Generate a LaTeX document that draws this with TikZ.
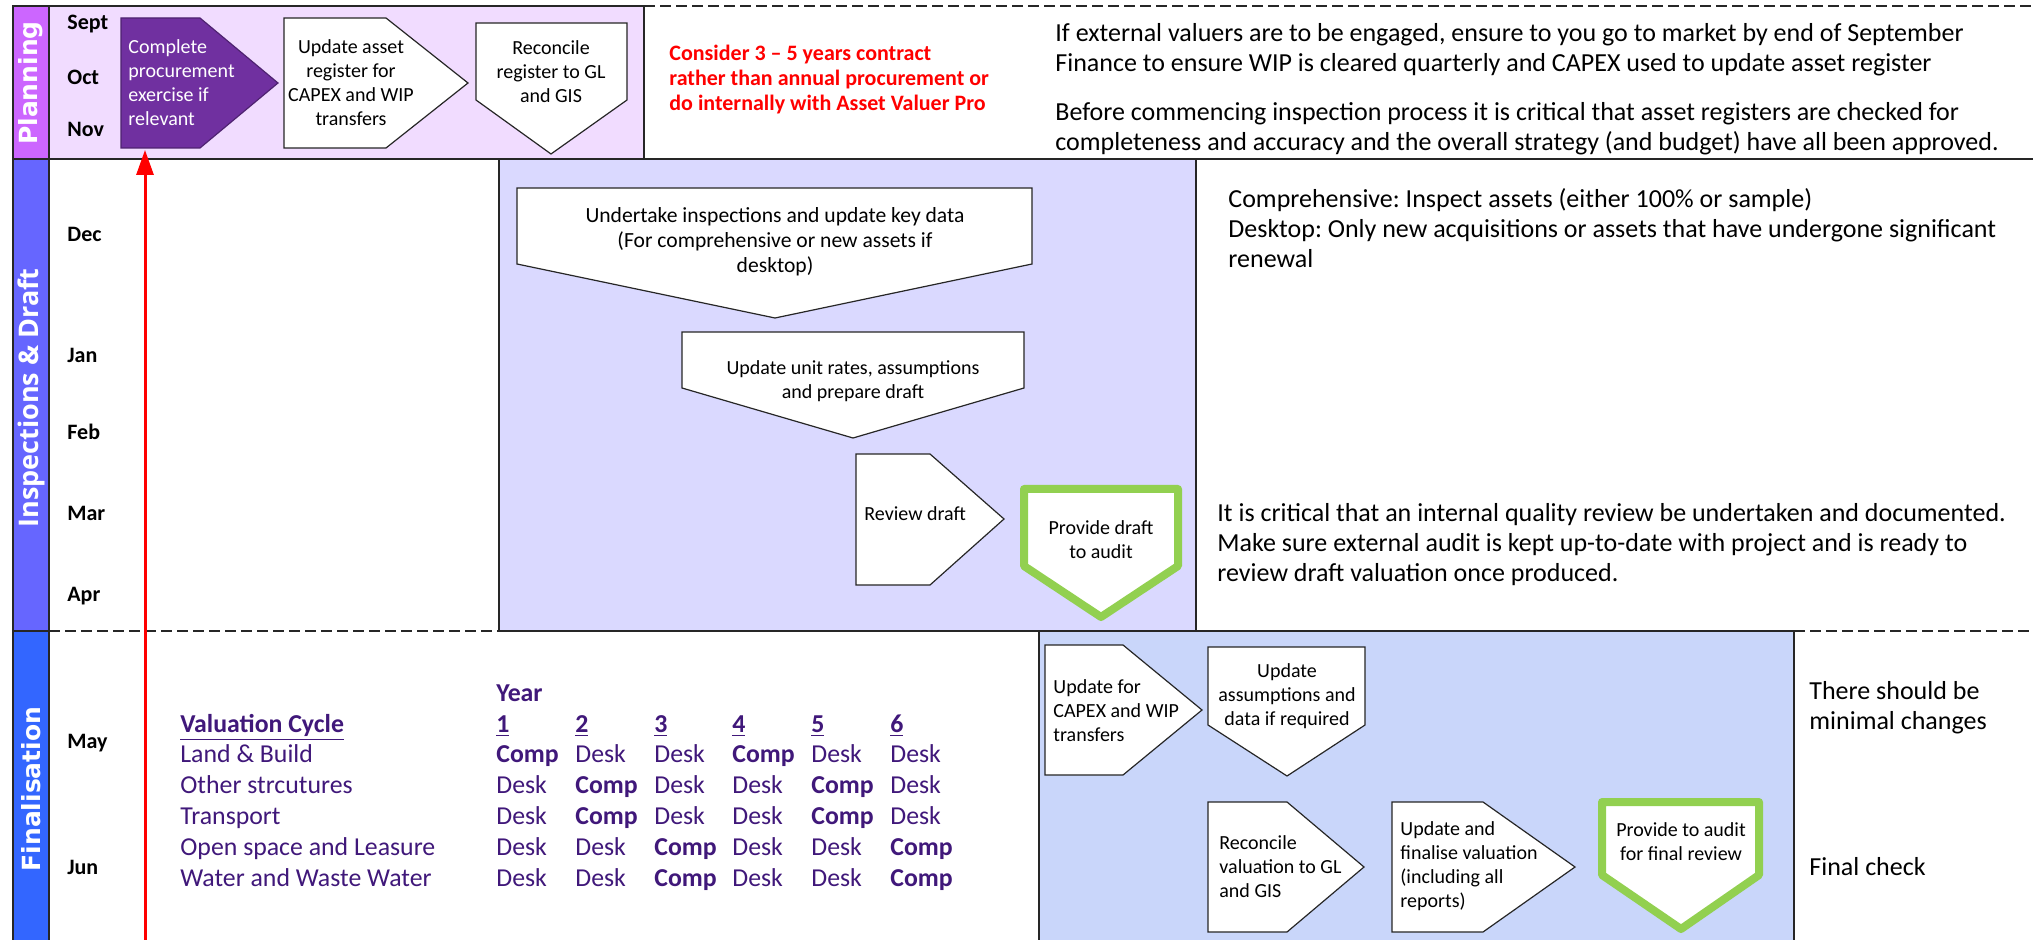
\documentclass[tikz,border=0pt]{standalone}
\usepackage{fontspec}
\setmainfont{Carlito}
\newfontfamily\verd{DejaVu Sans}
\newfontfamily\opens{Open Sans}
\usetikzlibrary{arrows.meta}
\definecolor{planside}{RGB}{204,102,255}
\definecolor{planfill}{RGB}{241,220,255}
\definecolor{inspside}{RGB}{102,102,255}
\definecolor{lavfill}{RGB}{218,217,255}
\definecolor{finside}{RGB}{51,102,255}
\definecolor{finfill}{RGB}{201,214,250}
\definecolor{pbox}{RGB}{112,48,160}
\definecolor{lgreen}{RGB}{146,208,80}
\definecolor{tpurple}{RGB}{64,24,122}
\definecolor{linec}{RGB}{38,38,38}
\frenchspacing
\begin{document}
\begin{tikzpicture}[x=0.5pt,y=-0.5pt,
  frame/.style={draw=linec, line width=1pt},
  dline/.style={draw=linec, line width=0.9pt, dash pattern=on 5.5pt off 2.5pt},
  wbox/.style={draw=black!85, line width=0.6pt, fill=white},
  gbox/.style={draw=lgreen, line width=4pt, line join=round, fill=white},
  btxt/.style={font=\fontsize{10}{12}\selectfont, inner sep=0pt},
  mon/.style={font=\bfseries\fontsize{11}{13}\selectfont, anchor=west, inner sep=0pt, text height=1.5ex, text depth=0.3ex},
  note/.style={font=\fontsize{13}{15}\selectfont, align=left, anchor=west, inner sep=0pt},
  tab/.style={font=\fontsize{12.9}{15.5}\selectfont, text=tpurple, anchor=west, inner sep=0pt, text height=1.5ex, text depth=0.3ex},
  side/.style={rotate=90, text=white, inner sep=0pt},
  redarrow/.style={draw=red, line width=1.5pt, -{Triangle[width=8.5pt,length=12.5pt]}}
]
\useasboundingbox (0,0) rectangle (2033,940);
\fill[white] (0,0) rectangle (2033,940);

% ---------- bands ----------
\path[frame, fill=planfill] (49,6) rectangle (644,159);
\path[frame, fill=planside] (13,6) rectangle (49,159);
\path[dline] (644,6) -- (2033,6);
\path[frame, fill=inspside] (13,159) rectangle (49,631);
\path[frame, fill=lavfill] (499,159) rectangle (1196,631);
\path[frame] (49,159) -- (2033,159);
\path[frame, fill=finside] (13,631) rectangle (49,942);
\path[frame, fill=finfill] (1039,631) rectangle (1794,942);
\path[dline] (49,631) -- (499,631);
\path[dline] (1794,631) -- (2033,631);

% ---------- side labels ----------
\node[side, font=\verd\bfseries\fontsize{12.5}{14}\selectfont] (lplan) at (31,83) {Planning};
\node[side, font=\opens\bfseries\fontsize{13.5}{15}\selectfont] (linsp) at (31,398) {Inspections \& Draft};
\node[side, font=\verd\bfseries\fontsize{12.5}{14}\selectfont] (lfin) at (31,789) {Finalisation};

% ---------- months ----------
\node[mon] (msep) at (67,24) {Sept};
\node[mon] (moct) at (67,79) {Oct};
\node[mon] (mnov) at (67,131) {Nov};
\node[mon] (mdec) at (67,236) {Dec};
\node[mon] (mjan) at (67,357) {Jan};
\node[mon] (mfeb) at (67,434) {Feb};
\node[mon] (mmar) at (67,515) {Mar};
\node[mon] (mapr) at (67,596) {Apr};
\node[mon] (mmay) at (67,743) {May};
\node[mon] (mjun) at (67,869) {Jun};

% ---------- planning boxes ----------
\path[draw=pbox!70!black, line width=0.6pt, fill=pbox] (121,18) -- (200,18) -- (278,83) -- (200,148) -- (121,148) -- cycle;
\node[btxt, anchor=west, align=left, text=white] (cproc) at (128,83) {Complete\\procurement\\exercise if\\relevant};
\path[wbox] (284,18) -- (386,18) -- (468,83) -- (386,148) -- (284,148) -- cycle;
\node[btxt, align=center] (uareg) at (351,83) {Update asset\\register for\\CAPEX and WIP\\transfers};
\path[wbox] (476,23) -- (627,23) -- (627,100) -- (551,154) -- (476,100) -- cycle;
\node[btxt, align=center] (rreg) at (551,72) {Reconcile\\register to GL\\and GIS};

\node[font=\bfseries\fontsize{11}{12.5}\selectfont, text=red, align=left, anchor=west, inner sep=0pt] (consider) at (669,80) {Consider 3 -- 5 years contract\\rather than annual procurement or\\do internally with Asset Valuer Pro};

\node[note] (n1) at (1055,50) {If external valuers are to be engaged, ensure to you go to market by end of September\\Finance to ensure WIP is cleared quarterly and CAPEX used to update asset register};
\node[note] (n2) at (1055,129) {Before commencing inspection process it is critical that asset registers are checked for\\completeness and accuracy and the overall strategy (and budget) have all been approved.};

% ---------- inspection boxes ----------
\path[wbox] (517,188) -- (1032,188) -- (1032,264) -- (775,318) -- (517,264) -- cycle;
\node[btxt, font=\fontsize{10.8}{12.4}\selectfont, align=center] (undert) at (775,242) {Undertake inspections and update key data\\(For comprehensive or new assets if\\desktop)};
\path[wbox] (682,332) -- (1024,332) -- (1024,388) -- (853,438) -- (682,388) -- cycle;
\node[btxt, align=center] (uunit) at (853,381) {Update unit rates, assumptions\\and prepare draft};
\path[wbox] (856,454) -- (930,454) -- (1004,519) -- (930,585) -- (856,585) -- cycle;
\node[btxt, anchor=west] (rdraft) at (864,514) {Review draft};
\path[gbox] (1024,489) -- (1178,489) -- (1178,566) -- (1101,617) -- (1024,566) -- cycle;
\node[btxt, align=center] (pdraft) at (1101,540) {Provide draft\\to audit};

\node[note] (n3) at (1228,228) {Comprehensive: Inspect assets (either 100\% or sample)\\Desktop: Only new acquisitions or assets that have undergone significant\\renewal};
\node[note] (n4) at (1217,545) {It is critical that an internal quality review be undertaken and documented.\\Make sure external audit is kept up-to-date with project and is ready to\\review draft valuation once produced.};

% ---------- finalisation boxes ----------
\path[wbox] (1045,645) -- (1123,645) -- (1202,710) -- (1123,775) -- (1045,775) -- cycle;
\node[btxt, anchor=west, align=left] (ucapex) at (1053,711) {Update for\\CAPEX and WIP\\transfers};
\path[wbox] (1208,647) -- (1365,647) -- (1365,725) -- (1287,776) -- (1208,725) -- cycle;
\node[btxt, align=center] (uassum) at (1287,696) {Update\\assumptions and\\data if required};
\path[wbox] (1208,802) -- (1287,802) -- (1364,867) -- (1287,932) -- (1208,932) -- cycle;
\node[btxt, anchor=west, align=left] (rval) at (1219,867) {Reconcile\\valuation to GL\\and GIS};
\path[wbox] (1392,802) -- (1483,802) -- (1575,867) -- (1483,932) -- (1392,932) -- cycle;
\node[btxt, anchor=west, align=left] (ufin) at (1400,866) {Update and\\finalise valuation\\(including all\\reports)};
\path[gbox] (1602,802) -- (1759,802) -- (1759,875) -- (1681,929) -- (1602,875) -- cycle;
\node[btxt, align=center] (paudit) at (1681,842) {Provide to audit\\for final review};

\node[note] (n5) at (1809,708) {There should be\\minimal changes};
\node[note] (n6) at (1809,867) {Final check};

% ---------- valuation table ----------
\node[tab, font=\bfseries\fontsize{12.9}{15.5}\selectfont] (year) at (496,696) {Year};
\node[tab, font=\bfseries\fontsize{12.9}{15.5}\selectfont] (vc) at (180,727) {\underline{Valuation Cycle}};
\foreach \c/\xx in {1/496,2/575,3/654,4/732,5/811,6/890}
  \node[tab, font=\bfseries\fontsize{12.9}{15.5}\selectfont] (h\c) at (\xx,727) {\underline{\c}};
\foreach \lab/\yy/\a/\b/\cc/\d/\e/\f in {
  Land \& Build/757/C/D/D/C/D/D,
  Other strcutures/788/D/C/D/D/C/D,
  Transport/819/D/C/D/D/C/D,
  Open space and Leasure/850/D/D/C/D/D/C,
  Water and Waste Water/881/D/D/C/D/D/C}{
  \node[tab] at (180,\yy) {\lab};
  \foreach \v/\xx in {\a/496,\b/575,\cc/654,\d/732,\e/811,\f/890}{
    \if C\v
      \node[tab, font=\bfseries\fontsize{12.9}{15.5}\selectfont] at (\xx,\yy) {Comp};
    \else
      \node[tab] at (\xx,\yy) {Desk};
    \fi
  }
}

% ---------- red arrow ----------
\coordinate (abase) at (145,942);
\coordinate (atip) at (145,150);
\path[redarrow] (abase) -- (atip);
\end{tikzpicture}
\end{document}
